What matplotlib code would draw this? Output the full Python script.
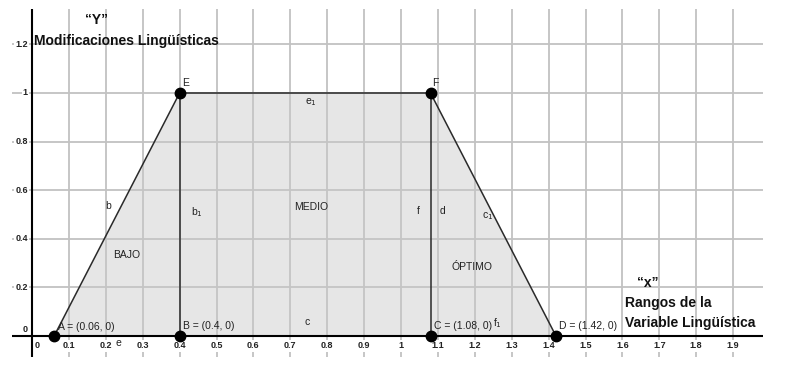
import matplotlib
matplotlib.use("Agg")
import matplotlib.pyplot as plt
import numpy as np

plt.rcParams['font.family'] = ['Liberation Sans', 'DejaVu Sans']

# trapezoid vertices (x, y)
pt_names = ['A', 'B', 'C', 'D', 'E', 'F']
pt_x = [0.06, 0.4, 1.08, 1.42, 0.4, 1.08]
pt_y = [0, 0, 0, 0, 1, 1]

# tick values
xticks = [0, 0.1, 0.2, 0.3, 0.4, 0.5, 0.6, 0.7, 0.8, 0.9, 1, 1.1, 1.2, 1.3, 1.4, 1.5, 1.6, 1.7, 1.8, 1.9]
yticks = [0, 0.2, 0.4, 0.6, 0.8, 1, 1.2]

# pixel -> data conversion of the GeoGebra view
px_per_x = 369.0
px_per_y = 243.0
x0_px, y0_px = 32, 336
W, H = 786, 365

def dx(px):
    return (px - x0_px) / px_per_x

def dy(py):
    return (y0_px - py) / px_per_y

fig = plt.figure(figsize=(W / 100, H / 100), dpi=100)
ax = fig.add_axes([0, 0, 1, 1])
ax.set_xlim(dx(0), dx(W))
ax.set_ylim(dy(H), dy(0))
ax.axis('off')

# grid area
gx0, gx1 = dx(12), dx(763)
gy0, gy1 = dy(357), dy(9)
gridc = '#c2c2c2'
for xv in xticks[1:]:
    ax.vlines(xv, gy0, gy1, color=gridc, lw=1.3, zorder=1)
for yv in yticks[1:]:
    ax.hlines(yv, gx0, gx1, color=gridc, lw=1.3, zorder=1)

# axes
ax.hlines(0, gx0, gx1, color='black', lw=1.5, zorder=4)
ax.vlines(0, gy0, gy1, color='black', lw=1.5, zorder=4)

# tick labels with white background
lab_kw = dict(fontsize=6.5, fontweight='bold', color='#222222', zorder=3,
              bbox=dict(facecolor='white', edgecolor='none', pad=1.0))
for xv in xticks:
    s = '0' if xv == 0 else ('%g' % xv)
    xp = dx(37) if xv == 0 else xv
    ax.text(xp, dy(346), s, ha='center', va='center', **lab_kw)
for yv in yticks:
    s = '%g' % yv
    yp = dy(330) if yv == 0 else yv
    ax.text(dx(28), yp, s, ha='right', va='center', **lab_kw)

# filled trapezoid A-E-F-D
A, B, C, D, E, F = [(pt_x[i], pt_y[i]) for i in range(6)]
poly_x = [A[0], E[0], F[0], D[0]]
poly_y = [A[1], E[1], F[1], D[1]]
ax.fill(poly_x, poly_y, color='#c8c8c8', alpha=0.45, zorder=2, lw=0)

edge = '#2a2a2a'
for p, q in [(A, E), (E, F), (F, D), (B, E), (C, F)]:
    ax.plot([p[0], q[0]], [p[1], q[1]], color=edge, lw=1.1, zorder=5)

ax.plot(pt_x, pt_y, 'o', color='black', ms=7.5, zorder=6)

# point labels
small = dict(fontsize=7.5, color='#222222', zorder=7)
ax.text(dx(58), dy(327), 'A = (0.06, 0)', ha='left', va='center', **small)
ax.text(dx(183), dy(326), 'B = (0.4, 0)', ha='left', va='center', **small)
ax.text(dx(434), dy(326), 'C = (1.08, 0)', ha='left', va='center', **small)
ax.text(dx(559), dy(326), 'D = (1.42, 0)', ha='left', va='center', **small)
ax.text(dx(182), dy(83), 'E', ha='left', va='center', **small)
ax.text(dx(432), dy(83), 'F', ha='left', va='center', **small)

# segment names
ax.text(dx(305), dy(102), r'e$_1$', ha='left', va='center', **small)
ax.text(dx(105), dy(206), 'b', ha='left', va='center', **small)
ax.text(dx(191), dy(212), r'b$_1$', ha='left', va='center', **small)
ax.text(dx(417), dy(211), 'f', ha='left', va='center', **small)
ax.text(dx(440), dy(211), 'd', ha='left', va='center', **small)
ax.text(dx(482), dy(216), r'c$_1$', ha='left', va='center', **small)
ax.text(dx(304), dy(322), 'c', ha='left', va='center', **small)
ax.text(dx(493), dy(323), r'f$_1$', ha='left', va='center', **small)
ax.text(dx(115), dy(343), 'e', ha='left', va='center', **small)

# region names
ax.text(dx(311), dy(207), 'MEDIO', ha='center', va='center', **small)
ax.text(dx(127), dy(255), 'BAJO', ha='center', va='center', **small)
ax.text(dx(472), dy(267), 'ÓPTIMO', ha='center', va='center', **small)

# axis titles
big = dict(fontsize=10, fontweight='bold', color='#111111', zorder=7)
ax.text(dx(97), dy(20), '\u201cY\u201d', ha='center', va='center', **big)
ax.text(dx(34), dy(41), 'Modificaciones Lingüísticas', ha='left', va='center', **big)
ax.text(dx(648), dy(283), '\u201cx\u201d', ha='center', va='center', **big)
ax.text(dx(625), dy(303), 'Rangos de la', ha='left', va='center', **big)
ax.text(dx(625), dy(323), 'Variable Lingüística', ha='left', va='center', **big)

fig.savefig('out.png', dpi=100)
